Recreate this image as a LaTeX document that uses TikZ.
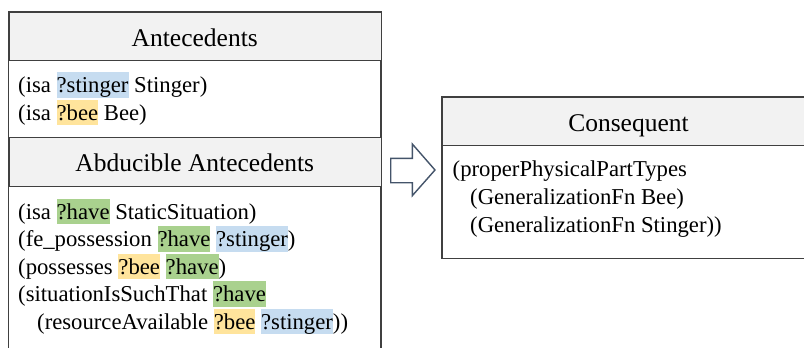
\documentclass[tikz,border=0pt]{standalone}
\usepackage{fontspec}
\setmainfont{Liberation Serif}

\definecolor{frame}{HTML}{404040}
\definecolor{headfill}{HTML}{F2F2F2}
\definecolor{hlblue}{HTML}{C6DCF0}
\definecolor{hlgold}{HTML}{FFE49C}
\definecolor{hlgreen}{HTML}{A9D18E}
\definecolor{arrowline}{HTML}{44546A}

% highlighted logic variable
\newcommand{\hlvar}[2]{{\setlength{\fboxsep}{0pt}\colorbox{#1}{\rule[-5pt]{0pt}{25.5pt}#2}}}

\tikzset{
  boxline/.style={draw=frame, line width=1.4pt},
  headbox/.style={boxline, fill=headfill, inner sep=0pt, anchor=north west},
  headtext/.style={inner sep=0pt, anchor=base, font=\fontsize{25.5}{30}\selectfont},
  bodyline/.style={inner sep=0pt, anchor=base west, font=\fontsize{22.7}{27}\selectfont},
  blockarrow/.style={draw=arrowline, line width=1.4pt, fill=white, line join=miter},
}

\begin{document}
\begin{tikzpicture}[x=1pt, y=-1pt]
\useasboundingbox (0,0) rectangle (804,348);
\clip (0,0) rectangle (804,348);

% left table: outer frame (runs past the lower edge)
\draw[boxline, fill=white] (8.5,11.5) rectangle (381,370);
\node[headbox, minimum width=372.5pt, minimum height=48.5pt] (anthead) at (8.5,11.5) {};
\node[headbox, minimum width=372.5pt, minimum height=49pt] (abdhead) at (8.5,137) {};

\node[headtext] (anttitle) at (194.75,46) {Antecedents};
\node[headtext] (abdtitle) at (194.75,171.5) {Abducible Antecedents};

\node[bodyline] (a1) at (18,92.7) {(isa \hlvar{hlblue}{?stinger} Stinger)};
\node[bodyline] (a2) at (18,120) {(isa \hlvar{hlgold}{?bee} Bee)};

\node[bodyline] (b1) at (18,219.3) {(isa \hlvar{hlgreen}{?have} StaticSituation)};
\node[bodyline] (b2) at (18,246.7) {(fe\_possession \hlvar{hlgreen}{?have} \hlvar{hlblue}{?stinger})};
\node[bodyline] (b3) at (18,274) {(possesses \hlvar{hlgold}{?bee} \hlvar{hlgreen}{?have})};
\node[bodyline] (b4) at (18,301.5) {(situationIsSuchThat \hlvar{hlgreen}{?have}};
\node[bodyline] (b5) at (37,329) {(resourceAvailable \hlvar{hlgold}{?bee} \hlvar{hlblue}{?stinger}))};

% right table (runs past the right edge)
\draw[boxline, fill=white] (442,96.5) rectangle (830,258.5);
\node[headbox, minimum width=388pt, minimum height=48.5pt] (conhead) at (442,96.5) {};
\node[headtext] (contitle) at (628.5,131.5) {Consequent};

\node[bodyline] (c1) at (452.5,176) {(properPhysicalPartTypes};
\node[bodyline] (c2) at (470,204) {(GeneralizationFn Bee)};
\node[bodyline] (c3) at (470,232) {(GeneralizationFn Stinger))};

% hollow block arrow between the tables
\draw[blockarrow] (390.7,158.3) -- (412.3,158.3) -- (412.3,144) -- (435,170)
  -- (412.3,195.7) -- (412.3,182.7) -- (390.7,182.7) -- cycle;
\end{tikzpicture}
\end{document}
